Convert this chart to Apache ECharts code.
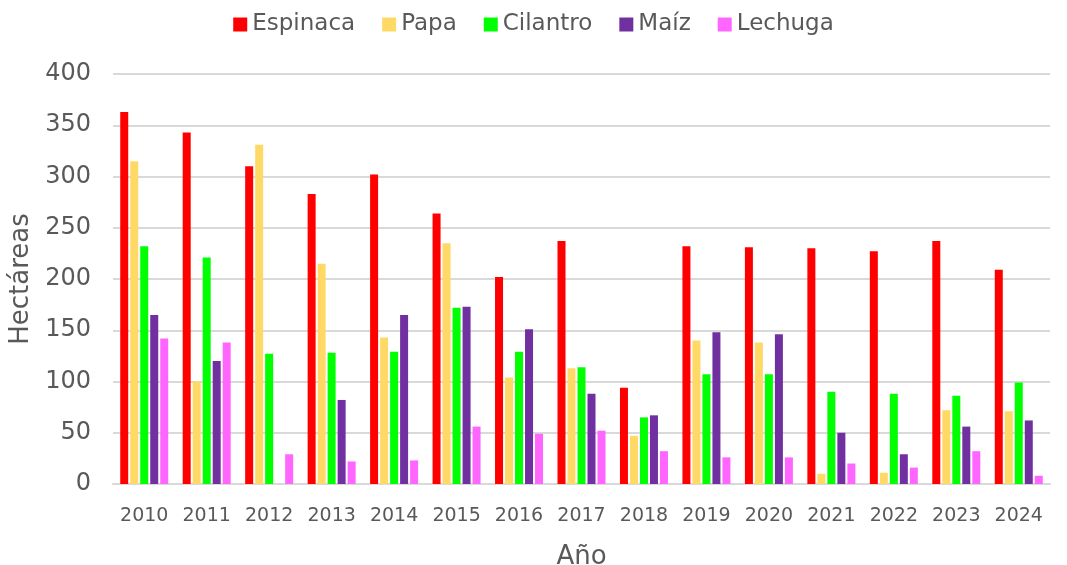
<!DOCTYPE html>
<html>
<head>
<meta charset="utf-8">
<script src="https://cdn.jsdelivr.net/npm/echarts@6/dist/echarts.min.js"></script>
<style>
  html, body { margin: 0; padding: 0; background: #fff; }
  #chart { width: 1067px; height: 565px; }
</style>
</head>
<body>
<div id="chart"></div>
<script>
const years = ['2010','2011','2012','2013','2014','2015','2016','2017','2018','2019','2020','2021','2022','2023','2024'];
const espinaca = [363, 343, 310, 283, 302, 264, 202, 237, 94, 232, 231, 230, 227, 237, 209];
const papa     = [315, 100, 331, 215, 143, 235, 104, 113, 47, 140, 138, 10, 11, 72, 71];
const cilantro = [232, 221, 127, 128, 129, 172, 129, 114, 65, 107, 107, 90, 88, 86, 99];
const maiz     = [165, 120, 0, 82, 165, 173, 151, 88, 67, 148, 146, 50, 29, 56, 62];
const lechuga  = [142, 138, 29, 22, 23, 56, 49, 52, 32, 26, 26, 20, 16, 32, 8];

const font = 'DejaVu Sans';
const textColor = '#595959';

const el = document.getElementById('chart');
const myChart = echarts.init(el);

const makeSeries = (name, data, color) => ({
  name: name,
  type: 'bar',
  data: data,
  barWidth: 8,
  barGap: '25%',
  itemStyle: { color: color },
});

myChart.setOption({
  animation: false,
  textStyle: { fontFamily: font },
  legend: {
    top: 8,
    left: 'center',
    itemWidth: 14,
    itemHeight: 14,
    itemGap: 27,
    icon: 'rect',
    textStyle: { fontSize: 23, color: textColor, fontFamily: font },
    data: ['Espinaca', 'Papa', 'Cilantro', 'Maíz', 'Lechuga']
  },
  grid: { left: 113, right: 17, top: 74, bottom: 81, outerBoundsMode: 'none', containLabel: false },
  xAxis: {
    type: 'category',
    data: years,
    name: 'Año',
    nameLocation: 'middle',
    nameGap: 60,
    nameTextStyle: { fontSize: 26, color: textColor, fontFamily: font },
    axisLine: { lineStyle: { color: '#d9d9d9', width: 2 } },
    axisTick: { show: false },
    axisLabel: { interval: 0, fontSize: 19, color: textColor, margin: 23, fontFamily: font }
  },
  yAxis: {
    type: 'value',
    min: 0,
    max: 400,
    interval: 50,
    name: 'Hectáreas',
    nameLocation: 'middle',
    nameGap: 77,
    nameTextStyle: { fontSize: 26, color: textColor, fontFamily: font },
    axisLabel: { fontSize: 24, color: textColor, margin: 22, fontFamily: font },
    splitLine: { lineStyle: { color: '#d9d9d9', width: 2 } },
    axisLine: { show: false },
    axisTick: { show: false }
  },
  series: [
    makeSeries('Espinaca', espinaca, '#ff0000'),
    makeSeries('Papa', papa, '#ffd966'),
    makeSeries('Cilantro', cilantro, '#00ff00'),
    makeSeries('Maíz', maiz, '#7030a0'),
    makeSeries('Lechuga', lechuga, '#ff66ff')
  ]
});
</script>
</body>
</html>
